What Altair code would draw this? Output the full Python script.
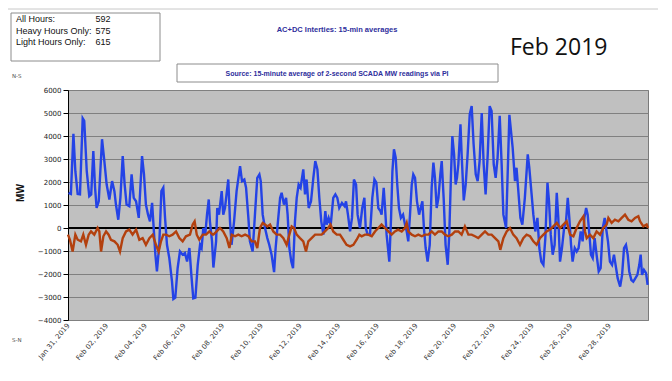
import altair as alt
import pandas as pd

# (days since Jan 31 2019 00:00, MW)
blue_points = [
    (0.03,1530),(0.15,1480),(0.28,4100),(0.38,2470),(0.5,1480),(0.62,1460),(0.76,4770),(0.84,4660),
    (0.97,2470),(1.1,1380),(1.2,1460),(1.31,3350),(1.4,1750),(1.48,870),(1.59,1160),(1.76,3860),
    (1.88,2910),(2.0,1890),(2.14,1240),(2.28,2040),(2.4,1600),(2.48,1020),(2.6,360),(2.71,1310),
    (2.83,3130),(2.93,1890),(3.03,1020),(3.17,950),(3.29,2330),(3.4,1310),(3.52,1160),(3.66,440),
    (3.83,3130),(3.93,2330),(4.03,1020),(4.14,580),(4.24,290),(4.35,1090),(4.41,290),(4.52,-1160),
    (4.6,-1890),(4.72,-730),(4.83,1600),(4.93,1750),(5.02,440),(5.12,-730),(5.24,-1310),(5.38,-2330),
    (5.45,-3090),(5.55,-3030),(5.67,-1750),(5.79,-1020),(5.93,-1160),(6.05,-1090),(6.16,-1460),(6.28,-870),
    (6.38,-2040),(6.48,-3060),(6.59,-3030),(6.71,-1600),(6.83,-730),(6.91,-870),(7.0,0),(7.1,-290),
    (7.19,580),(7.28,1240),(7.34,290),(7.45,-580),(7.52,-1720),(7.66,-580),(7.72,870),(7.81,580),
    (7.95,1600),(8.03,580),(8.12,870),(8.29,2110),(8.38,290),(8.46,-730),(8.59,290),(8.72,1600),
    (8.9,2690),(9.0,2040),(9.12,2110),(9.21,1750),(9.33,440),(9.41,-580),(9.55,-1020),(9.67,580),
    (9.79,2180),(9.9,2330),(9.97,2040),(10.07,580),(10.19,0),(10.31,-440),(10.41,-730),(10.53,-1160),
    (10.66,-1920),(10.74,-870),(10.86,290),(10.97,1310),(11.05,1530),(11.17,1020),(11.28,1310),(11.36,580),
    (11.45,-870),(11.55,-1460),(11.64,-1750),(11.74,290),(11.83,1310),(11.93,1890),(12.03,1750),(12.17,2550),
    (12.26,1460),(12.34,2110),(12.45,870),(12.57,1160),(12.69,2180),(12.79,2910),(12.9,2550),(13.0,1310),
    (13.1,290),(13.21,-290),(13.31,730),(13.38,150),(13.48,440),(13.59,150),(13.72,1310),(13.83,1460),
    (13.93,1310),(14.03,870),(14.17,1090),(14.31,950),(14.38,1160),(14.48,580),(14.59,-150),(14.69,440),
    (14.79,2110),(14.9,1890),(14.98,580),(15.1,0),(15.22,870),(15.33,1310),(15.4,0),(15.5,-290),
    (15.62,-290),(15.74,1310),(15.85,2110),(15.95,1970),(16.05,870),(16.16,730),(16.22,580),(16.33,1750),
    (16.4,870),(16.48,-290),(16.62,-1460),(16.71,440),(16.78,2470),(16.86,3420),(16.95,3060),(17.03,1890),
    (17.12,870),(17.22,440),(17.33,580),(17.43,150),(17.52,-150),(17.6,-580),(17.69,580),(17.78,1890),
    (17.86,2330),(17.95,2180),(18.05,1160),(18.16,580),(18.24,870),(18.33,1160),(18.41,0),(18.5,-870),
    (18.6,-1460),(18.71,-730),(18.81,1750),(18.9,2840),(18.98,2180),(19.07,870),(19.16,1310),(19.26,2330),
    (19.33,2910),(19.43,1310),(19.53,-730),(19.64,-1600),(19.72,-290),(19.81,2330),(19.88,4000),(19.97,3200),
    (20.05,1890),(20.12,2180),(20.19,2770),(20.3,4510),(20.36,3200),(20.47,1200),(20.57,1890),(20.67,3200),
    (20.78,4950),(20.88,5300),(20.98,3640),(21.09,2330),(21.19,2040),(21.29,2910),(21.4,5000),(21.5,2770),
    (21.6,1460),(21.71,3200),(21.81,5300),(21.91,5090),(22.02,2770),(22.12,2180),(22.22,3060),(22.33,4880),
    (22.43,2770),(22.52,580),(22.66,0),(22.83,4920),(23.0,3490),(23.12,2040),(23.2,2620),(23.4,440),
    (23.5,150),(23.63,1310),(23.78,3200),(23.86,2620),(23.98,1460),(24.07,580),(24.17,-150),(24.28,440),
    (24.38,-870),(24.48,-1460),(24.59,-1600),(24.69,-440),(24.8,1970),(24.88,1160),(24.97,-290),(25.07,-1160),
    (25.17,-730),(25.28,1530),(25.36,440),(25.45,-1460),(25.55,-870),(25.66,0),(25.76,290),(25.85,1310),
    (25.93,440),(26.02,-730),(26.1,-1460),(26.21,-870),(26.31,-1020),(26.41,-870),(26.52,-150),(26.62,-580),
    (26.71,440),(26.8,870),(26.88,580),(26.97,-290),(27.05,-1160),(27.14,-1310),(27.24,-440),(27.34,-1160),
    (27.45,-1890),(27.55,-1750),(27.66,0),(27.76,440),(27.83,0),(27.93,-580),(28.03,-1460),(28.14,-1600),
    (28.24,-1160),(28.35,-1750),(28.43,-2180),(28.56,-2550),(28.66,-2040),(28.76,-870),(28.86,-730),(28.95,-1160),
    (29.03,-1890),(29.14,-2260),(29.24,-2330),(29.35,-2180),(29.45,-2040),(29.55,-1600),(29.62,-1160),(29.69,-2040),
    (29.79,-1820),(29.9,-1960),(29.98,-2470),
]

red_points = [
    (0.0,-290),(0.1,-510),(0.24,-1020),(0.38,-290),(0.5,-510),(0.67,-580),(0.79,-290),(0.93,-730),
    (1.07,-290),(1.19,-150),(1.36,-290),(1.53,0),(1.62,-150),(1.71,-1020),(1.83,-360),(1.97,-150),
    (2.1,-290),(2.22,-510),(2.4,-580),(2.57,-730),(2.69,-1020),(2.83,-440),(3.0,-150),(3.17,-70),
    (3.34,-290),(3.52,-70),(3.69,-510),(3.86,-440),(4.03,-730),(4.21,-440),(4.38,-290),(4.55,-730),
    (4.69,-1020),(4.81,-580),(4.93,-290),(5.07,-290),(5.24,-360),(5.41,-290),(5.59,-150),(5.76,-440),
    (5.93,-580),(6.1,-360),(6.31,-290),(6.45,150),(6.55,290),(6.66,-290),(6.79,-510),(6.97,-290),
    (7.14,-290),(7.31,-150),(7.48,-290),(7.52,-290),(7.69,-150),(7.86,0),(8.03,-150),(8.21,-440),
    (8.35,-870),(8.47,-290),(8.64,-360),(8.81,-290),(8.98,-360),(9.16,-290),(9.33,-360),(9.5,-580),
    (9.67,-580),(9.79,-870),(9.93,0),(10.07,220),(10.19,150),(10.31,70),(10.45,150),(10.62,-150),
    (10.79,-290),(10.97,-290),(11.14,-440),(11.31,-730),(11.45,-290),(11.57,70),(11.69,0),(11.83,-290),
    (12.0,-440),(12.17,-580),(12.31,-1020),(12.43,-580),(12.6,-440),(12.78,-290),(12.95,-290),(13.12,-290),
    (13.29,-150),(13.46,0),(13.58,150),(13.72,-150),(13.9,-290),(14.07,-290),(14.24,-510),(14.41,-730),
    (14.59,-800),(14.76,-730),(14.93,-510),(15.07,-290),(15.19,-360),(15.36,-290),(15.53,-290),(15.71,-360),
    (15.88,-150),(16.05,0),(16.22,150),(16.4,0),(16.57,-150),(16.74,-290),(16.91,-150),(17.08,-70),
    (17.26,-150),(17.43,0),(17.52,220),(17.6,-150),(17.78,-290),(17.95,-360),(18.12,-290),(18.3,-360),
    (18.47,-290),(18.64,-290),(18.81,-150),(18.98,-290),(19.16,-150),(19.33,-150),(19.5,-290),(19.67,-360),
    (19.85,-290),(20.02,-150),(20.19,-150),(20.36,-290),(20.53,70),(20.71,-290),(20.88,-290),(21.05,-360),
    (21.22,-440),(21.4,-290),(21.57,-150),(21.74,-290),(21.91,-290),(22.09,-440),(22.26,-580),(22.36,-950),
    (22.52,-440),(22.69,-150),(22.86,0),(23.03,-290),(23.2,-440),(23.38,-730),(23.55,-440),(23.72,-290),
    (23.9,-360),(24.07,-580),(24.24,-730),(24.41,-440),(24.59,-290),(24.76,-150),(24.93,-70),(25.1,70),
    (25.28,220),(25.45,0),(25.62,150),(25.79,290),(25.97,-290),(26.14,-360),(26.31,0),(26.48,290),
    (26.66,510),(26.74,-150),(26.83,-440),(27.0,-290),(27.17,-440),(27.34,-150),(27.52,-290),(27.69,0),
    (27.86,150),(27.95,440),(28.12,220),(28.29,360),(28.47,290),(28.64,440),(28.81,580),(28.98,360),
    (29.15,290),(29.33,440),(29.5,510),(29.59,290),(29.76,70),(29.93,150),(30.0,0),
]

series_names = ["AC+DC Interties", "Other"]
series_colors = ["#2443E6", "#B3400E"]
stat_labels = ["All Hours:", "Heavy Hours Only:", "Light Hours Only:"]
stat_values = ["592", "575", "615"]
y_ticks = [-4000, -3000, -2000, -1000, 0, 1000, 2000, 3000, 4000, 5000, 6000]
x_tick_dates = ["2019-01-31", "2019-02-02", "2019-02-04", "2019-02-06", "2019-02-08",
                "2019-02-10", "2019-02-12", "2019-02-14", "2019-02-16", "2019-02-18",
                "2019-02-20", "2019-02-22", "2019-02-24", "2019-02-26", "2019-02-28"]

start = pd.Timestamp("2019-01-31")


def frame(points, name):
    return pd.DataFrame({
        "time": [start + pd.Timedelta(days=d) for d, _ in points],
        "mw": [v for _, v in points],
        "series": name,
    })


df = pd.concat([frame(blue_points, series_names[0]), frame(red_points, series_names[1])],
               ignore_index=True)


def dt(s):
    t = pd.Timestamp(s)
    return alt.DateTime(year=t.year, month=t.month, date=t.day)


x_enc = alt.X(
    "time:T",
    scale=alt.Scale(domain=[dt("2019-01-31"), dt("2019-03-02")]),
    axis=alt.Axis(values=[dt(s) for s in x_tick_dates], format="%b %d, %Y",
                  labelAngle=-50, labelAlign="right", labelBaseline="middle",
                  labelFont="DejaVu Sans", labelFontSize=7, labelColor="#333333",
                  labelPadding=4, domain=False, ticks=False, grid=False, title=None,
                  labelOverlap=False),
)


def y_enc(field="mw:Q"):
    return alt.Y(
        field,
        scale=alt.Scale(domain=[-4000, 6000], nice=False),
        axis=alt.Axis(values=y_ticks, format="d", title=None, grid=True, gridColor="#808080",
                      gridWidth=1, domainColor="#000000", tickColor="#000000",
                      tickSize=5, labelFont="DejaVu Sans", labelFontSize=7,
                      labelColor="#222222", labelPadding=2, labelOverlap=False),
    )


lines = alt.Chart(df).mark_line(strokeWidth=2.4, interpolate="linear").encode(
    x=x_enc,
    y=y_enc(),
    color=alt.Color("series:N", scale=alt.Scale(domain=series_names, range=series_colors),
                    legend=None),
    order=alt.Order("time:T"),
)

one = pd.DataFrame({"a": [0]})

zero = alt.Chart(pd.DataFrame({"mw": [0]})).mark_rule(color="#000000", strokeWidth=2).encode(
    y=y_enc(), x=alt.value(0), x2=alt.value(580))

top_line = alt.Chart(one).mark_rule(color="#c8c8c8", strokeWidth=1).encode(
    x=alt.value(-60), x2=alt.value(593), y=alt.value(-81))

stats_box = alt.Chart(one).mark_rect(fill="white", stroke="#8c8c8c", strokeWidth=1).encode(
    x=alt.value(-57), x2=alt.value(92), y=alt.value(-77), y2=alt.value(-29))

stats_text = alt.Chart(pd.DataFrame({"t": ["\n".join(stat_labels)]})).mark_text(
    align="left", baseline="top", font="Liberation Sans", fontSize=9, lineBreak="\n",
    lineHeight=11.7, color="#111111").encode(x=alt.value(-52), y=alt.value(-75), text="t:N")

stats_vals = alt.Chart(pd.DataFrame({"t": ["\n".join(stat_values)]})).mark_text(
    align="left", baseline="top", font="Liberation Sans", fontSize=9, lineBreak="\n",
    lineHeight=11.7, color="#111111").encode(x=alt.value(27.5), y=alt.value(-75), text="t:N")

title = alt.Chart(pd.DataFrame({"t": ["AC+DC Interties: 15-min averages"]})).mark_text(
    align="center", baseline="alphabetic", font="Liberation Sans", fontSize=7.5,
    fontWeight="bold", color="#2E2E9C").encode(x=alt.value(269), y=alt.value(-58), text="t:N")

month = alt.Chart(pd.DataFrame({"t": ["Feb 2019"]})).mark_text(
    align="left", baseline="alphabetic", font="Open Sans", fontSize=23,
    color="#111111").encode(x=alt.value(442), y=alt.value(-35), text="t:N")

source_box = alt.Chart(one).mark_rect(fill="white", stroke="#8c8c8c", strokeWidth=1).encode(
    x=alt.value(109), x2=alt.value(430), y=alt.value(-26), y2=alt.value(-8))

source = alt.Chart(pd.DataFrame({"t": ["Source: 15-minute average of 2-second SCADA MW readings via PI"]})).mark_text(
    align="center", baseline="alphabetic", font="Liberation Sans", fontSize=7,
    fontWeight="bold", color="#2E2E9C").encode(x=alt.value(269), y=alt.value(-14.5), text="t:N")

ns = alt.Chart(pd.DataFrame({"t": ["N-S"]})).mark_text(
    align="left", baseline="alphabetic", font="DejaVu Sans", fontSize=5.5,
    color="#555555").encode(x=alt.value(-56), y=alt.value(-12), text="t:N")

sn = alt.Chart(pd.DataFrame({"t": ["S-N"]})).mark_text(
    align="left", baseline="alphabetic", font="DejaVu Sans", fontSize=5.5,
    color="#555555").encode(x=alt.value(-56), y=alt.value(252), text="t:N")

mw = alt.Chart(pd.DataFrame({"t": ["MW"]})).mark_text(
    align="center", baseline="middle", angle=270, font="Liberation Sans", fontSize=10,
    fontWeight="bold", color="#111111").encode(x=alt.value(-47), y=alt.value(103), text="t:N")

chart = alt.layer(
    zero, lines, top_line, stats_box, stats_text, stats_vals, title, month,
    source_box, source, ns, sn, mw,
).properties(
    width=580, height=230,
    padding={"left": 60, "top": 82, "right": 10, "bottom": 52},
    autosize=alt.AutoSizeParams(type="none"),
    background="white",
).configure_view(fill="#c0c0c0", stroke="#7a7a7a", strokeWidth=1)

chart.save("out.html", embed_options={"renderer": "svg", "actions": False})
